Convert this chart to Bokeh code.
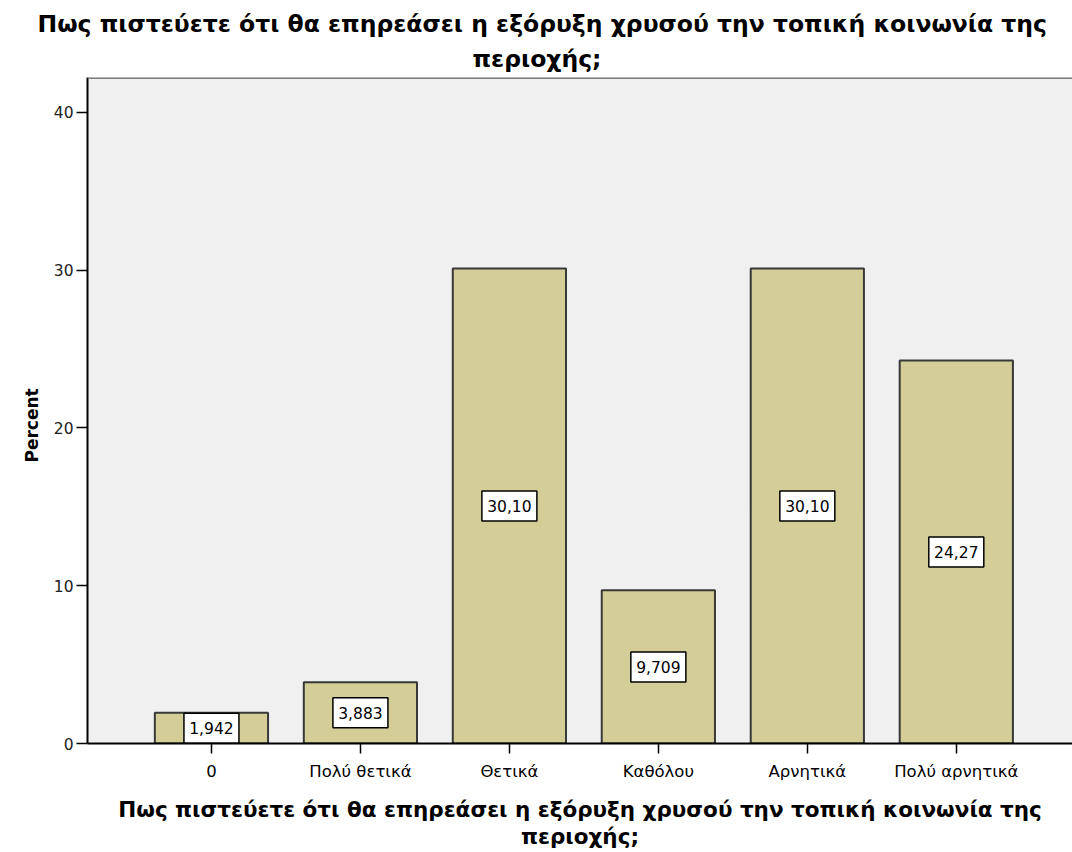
from bokeh.plotting import figure
from bokeh.models import Range1d, FixedTicker, Title, ColumnDataSource, Span
from bokeh.embed import file_html
from bokeh.resources import INLINE
from bokeh.core.properties import value

categories = ["0", "Πολύ θετικά", "Θετικά", "Καθόλου", "Αρνητικά", "Πολύ αρνητικά"]
percents = [1.942, 3.883, 30.10, 9.709, 30.10, 24.27]
value_labels = ["1,942", "3,883", "30,10", "9,709", "30,10", "24,27"]
y_ticks = [0, 10, 20, 30, 40]
title_lines = ["Πως πιστεύετε ότι θα επηρεάσει η εξόρυξη χρυσού την τοπική κοινωνία της",
               "περιοχής;"]
x_title_lines = ["Πως πιστεύετε ότι θα επηρεάσει η εξόρυξη χρυσού την τοπική κοινωνία της",
                 "περιοχής;"]
y_title = "Percent"

FONT = "DejaVu Sans"
xs = list(range(len(categories)))
src = ColumnDataSource(dict(x=xs, top=percents,
                            mid=[v / 2 for v in percents],
                            label=value_labels))

Y_END = 42.2
p = figure(width=1072, height=852,
           x_range=Range1d(-0.832, 5.78), y_range=Range1d(0, Y_END),
           output_backend="svg", toolbar_location=None,
           min_border_left=87, min_border_right=0,
           min_border_top=77, min_border_bottom=109)

p.background_fill_color = "#f0f0f0"
p.border_fill_color = "white"
p.outline_line_color = None
p.grid.visible = False

p.vbar(x="x", top="top", bottom=0, width=0.76, source=src,
       fill_color="#d3ce97", line_color="#383838", line_width=2)

p.rect(x="x", y="mid", width=55, height=30, width_units="screen",
       height_units="screen", source=src, fill_color="white",
       line_color="black", line_width=1.5)
p.text(x="x", y="mid", text="label", source=src, text_align="center",
       text_baseline="middle", text_font=value(FONT),
       text_font_size="15.5px", text_color="black")

p.add_layout(Span(location=Y_END, dimension="width", line_color="#7a7a7a",
                  line_width=3))

# axes
p.xaxis.ticker = FixedTicker(ticks=xs)
p.xaxis.major_label_overrides = {i: c for i, c in enumerate(categories)}
p.xaxis.minor_tick_line_color = None
p.xaxis.major_tick_out = 10
p.xaxis.major_tick_in = 0
p.xaxis.major_tick_line_width = 1.5
p.xaxis.major_label_standoff = 8
p.xaxis.major_label_text_font = FONT
p.xaxis.major_label_text_font_size = "16.5px"
p.xaxis.major_label_text_color = "black"
p.xaxis.axis_line_width = 2
p.xaxis.axis_line_color = "black"
p.xaxis.axis_label = "\n".join(x_title_lines)
p.xaxis.axis_label_text_font = FONT
p.xaxis.axis_label_text_font_size = "21.5px"
p.xaxis.axis_label_text_font_style = "bold"
p.xaxis.axis_label_text_color = "black"
p.xaxis.axis_label_text_line_height = 1.1
p.xaxis.axis_label_standoff = 13

p.yaxis.ticker = FixedTicker(ticks=y_ticks)
p.yaxis.minor_tick_line_color = None
p.yaxis.major_tick_out = 11
p.yaxis.major_tick_in = 0
p.yaxis.major_tick_line_width = 1.5
p.yaxis.major_label_standoff = 3
p.yaxis.major_label_text_font = FONT
p.yaxis.major_label_text_font_size = "15.5px"
p.yaxis.major_label_text_color = "#222222"
p.yaxis.axis_line_width = 2
p.yaxis.axis_line_color = "black"

# y axis title, placed slightly below the frame centre as in the original
p.add_layout(Title(text=y_title, align="left", offset=281,
                   text_font=FONT, text_font_size="17px",
                   text_font_style="bold", text_color="black",
                   standoff=17), "left")

# main title: two lines, centred on the canvas (left-aligned with offsets)
p.add_layout(Title(text=title_lines[1], align="left", offset=385,
                   text_font=FONT, text_font_size="23.5px",
                   text_font_style="bold", text_color="black",
                   standoff=10), "above")
p.add_layout(Title(text=title_lines[0], align="left", offset=-50,
                   text_font=FONT, text_font_size="23.5px",
                   text_font_style="bold", text_color="black",
                   standoff=0), "above")

open("out.html", "w").write(file_html(p, INLINE))
